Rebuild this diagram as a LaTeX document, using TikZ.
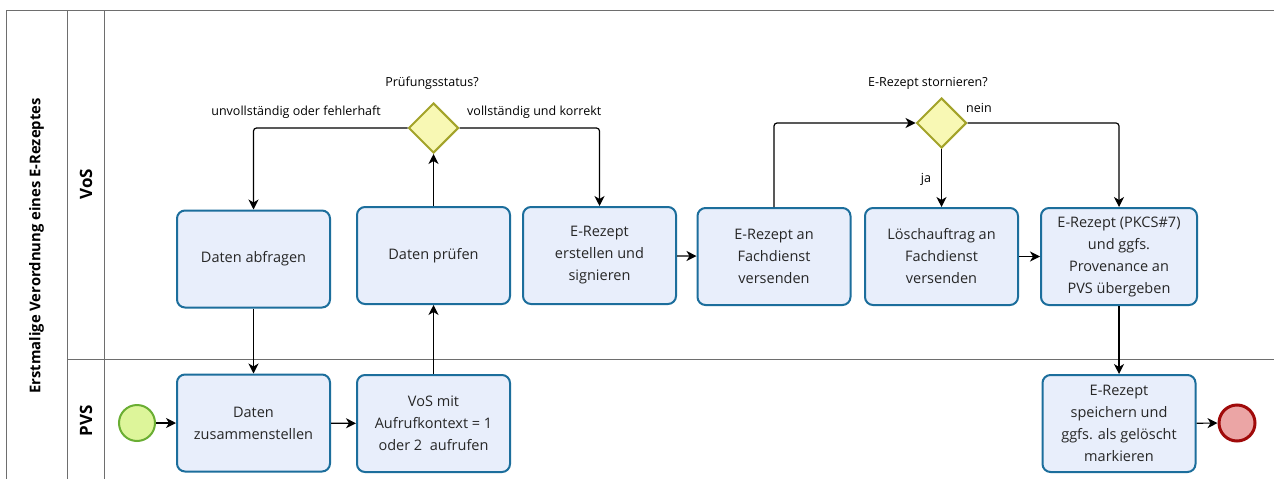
\documentclass[tikz,border=0pt]{standalone}
\usepackage{fontspec}
\setmainfont{Open Sans}
\usetikzlibrary{arrows.meta,shapes.geometric,calc}
\definecolor{taskfill}{HTML}{E8EEFB}
\definecolor{taskdraw}{HTML}{1C6E9C}
\definecolor{gwfill}{HTML}{F8F8B4}
\definecolor{gwdraw}{HTML}{A3A32A}
\definecolor{stfill}{HTML}{DDF59A}
\definecolor{stdraw}{HTML}{6AAE33}
\definecolor{endfill}{HTML}{EBA5A5}
\definecolor{enddraw}{HTML}{A00A0A}
\definecolor{lanegray}{HTML}{6E6E6E}
\tikzset{
  task/.style={draw=taskdraw, fill=taskfill, line width=2pt, rounded corners=8pt,
    minimum width=153pt, minimum height=97pt, align=center, inner sep=2pt,
    font=\fontsize{14.5}{22}\selectfont, text=black!85},
  gw/.style={draw=gwdraw, fill=gwfill, line width=2pt, diamond, aspect=1,
    minimum width=50pt, minimum height=50pt, inner sep=0pt},
  startev/.style={draw=stdraw, fill=stfill, line width=2pt, circle, minimum size=36pt, inner sep=0pt},
  endev/.style={draw=enddraw, fill=endfill, line width=3pt, circle, minimum size=36pt, inner sep=0pt},
  flow/.style={draw=black, line width=1.2pt, rounded corners=3pt,
    -{Stealth[length=10pt,width=10pt,inset=3pt]}},
  lbl/.style={font=\fontsize{12.5}{14}\selectfont, inner sep=0pt, text=black},
  lane/.style={draw=lanegray, line width=1pt},
}
\begin{document}
\begin{tikzpicture}[x=1pt,y=-1pt]
\useasboundingbox (0,0) rectangle (1274,479);
\fill[white] (0,0) rectangle (1274,479);
% pool and lanes
\draw[lane] (6,479) -- (6,10) -- (1274,10);
\draw[lane] (67,10) -- (67,479);
\draw[lane] (104,10) -- (104,479);
\draw[lane] (67,359) -- (1274,359);
\node[rotate=90, font=\bfseries\fontsize{14.8}{17}\selectfont] (pool) at (36.5,246) {Erstmalige Verordnung eines E-Rezeptes};
\node[rotate=90, font=\bfseries\fontsize{17}{19}\selectfont] (lvos) at (86,184) {VoS};
\node[rotate=90, font=\bfseries\fontsize{17}{19}\selectfont] (lpvs) at (86,421) {PVS};
% tasks
\node[task] (abfragen) at (253.5,259) {Daten abfragen};
\node[task] (zusammen) at (253.5,423) {Daten\\zusammenstellen};
\node[task] (pruefen) at (433.5,255.5) {Daten prüfen};
\node[task] (erstellen) at (599.5,255.5) {E-Rezept\\erstellen und\\signieren};
\node[task] (vosmit) at (433.5,423.5) {VoS mit\\Aufrufkontext = 1\\oder 2~~aufrufen};
\node[task] (fach) at (774,256.5) {E-Rezept an\\Fachdienst\\versenden};
\node[task] (loesch) at (941.5,256.5) {Löschauftrag an\\Fachdienst\\versenden};
\node[task, minimum width=156pt] (pkcs) at (1119,256.5) {E-Rezept (PKCS\#7)\\und ggfs.\\Provenance an\\PVS übergeben};
\node[task] (speichern) at (1119,423.5) {E-Rezept\\speichern und\\ggfs. als gelöscht\\markieren};
% events and gateways
\node[startev] (start) at (137,423) {};
\node[endev] (end) at (1237,423) {};
\node[gw] (gw1) at (433.5,128) {};
\node[gw] (gw2) at (941.5,123) {};
% labels
\node[lbl] (l1) at (432,83) {Prüfungsstatus?};
\node[lbl, anchor=east] (l2) at (381,112) {unvollständig oder fehlerhaft};
\node[lbl, anchor=west] (l3) at (467,112) {vollständig und korrekt};
\node[lbl] (l4) at (928,83) {E-Rezept stornieren?};
\node[lbl, anchor=west] (l5) at (966,108) {nein};
\node[lbl] (l6) at (926,179) {ja};
% flows
\draw[flow] (start) -- (zusammen);
\draw[flow] (zusammen) -- (vosmit);
\draw[flow] (vosmit) -- (pruefen);
\draw[flow] (pruefen) -- (gw1.south);
\draw[flow] (gw1.west) -| (abfragen.north);
\draw[flow] (gw1.east) -| (erstellen.north);
\draw[flow] (abfragen) -- (zusammen);
\draw[flow] (erstellen) -- (fach);
\draw[flow] (fach.north) |- (gw2.west);
\draw[flow] (gw2.south) -- (loesch.north);
\draw[flow] (gw2.east) -| (pkcs.north);
\draw[flow] (loesch) -- (pkcs);
\draw[flow] (pkcs) -- (speichern);
\draw[flow] (speichern) -- (end);
\end{tikzpicture}
\end{document}
